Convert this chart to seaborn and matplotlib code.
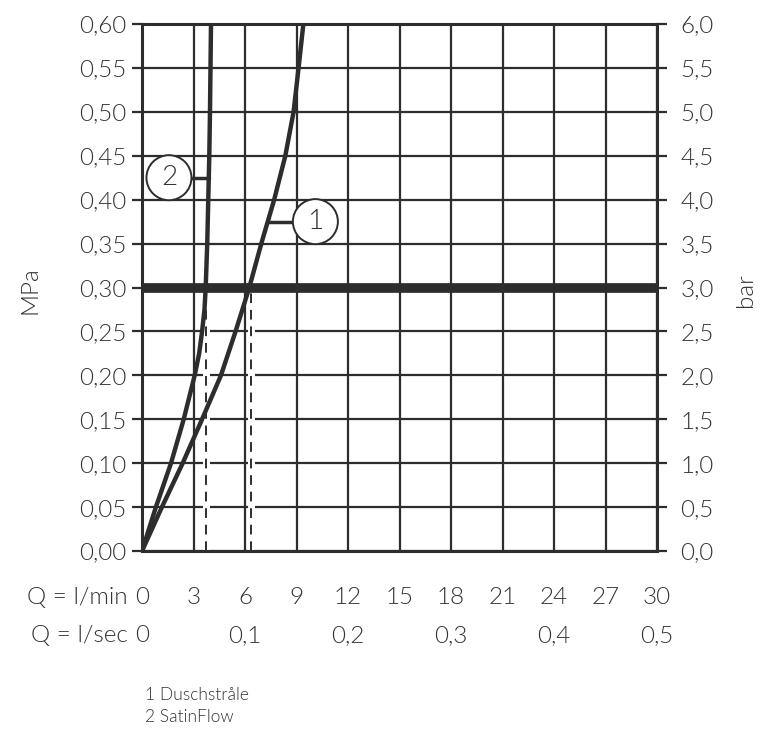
import numpy as np
import matplotlib
matplotlib.use("Agg")
import matplotlib.pyplot as plt
import matplotlib.transforms as mtransforms
from matplotlib.patches import Ellipse
import seaborn as sns

# pressure (MPa) against flow (l/min)
pressure_duschstrale = [0.00, 0.05, 0.10, 0.15, 0.20, 0.25, 0.30, 0.35, 0.40, 0.45, 0.50, 0.55, 0.60]
flow_duschstrale = [0.0, 1.16, 2.37, 3.5, 4.6, 5.45, 6.25, 6.95, 7.7, 8.35, 8.83, 9.12, 9.4]
pressure_satinflow = [0.00, 0.05, 0.10, 0.15, 0.20, 0.225, 0.25, 0.275, 0.30, 0.35, 0.40, 0.45, 0.50, 0.55, 0.60]
flow_satinflow = [0.0, 0.81, 1.69, 2.43, 3.07, 3.33, 3.5, 3.64, 3.71, 3.8, 3.86, 3.92, 3.96, 3.99, 4.02]

working_pressure = 0.30
flow_at_working = [3.73, 6.35]

lmin_ticks = [0, 3, 6, 9, 12, 15, 18, 21, 24, 27, 30]
lsec_pos = [0, 6, 12, 18, 24, 30]
lsec_labels = ["0", "0,1", "0,2", "0,3", "0,4", "0,5"]
mpa_ticks = [0.00, 0.05, 0.10, 0.15, 0.20, 0.25, 0.30, 0.35, 0.40, 0.45, 0.50, 0.55, 0.60]
bar_ticks = [0.0, 0.5, 1.0, 1.5, 2.0, 2.5, 3.0, 3.5, 4.0, 4.5, 5.0, 5.5, 6.0]
legend_lines = ["1 Duschstråle", "2 SatinFlow"]

ink = "#2d2d2d"
txt = "#333333"
fs = 17.5
fw = 300

sns.set_style("white")
plt.rcParams["font.family"] = ["Lato", "DejaVu Sans"]
plt.rcParams["text.color"] = txt

fig = plt.figure(figsize=(7.6, 7.35), dpi=100)
ax = fig.add_axes([142 / 760, 1 - 551 / 735, 515 / 760, 527 / 735])

# curves
sns.lineplot(x=flow_duschstrale, y=pressure_duschstrale, sort=False, estimator=None,
             color=ink, lw=3.2, ax=ax, zorder=4)
sns.lineplot(x=flow_satinflow, y=pressure_satinflow, sort=False, estimator=None,
             color=ink, lw=3.2, ax=ax, zorder=4)

# working pressure line and the dashed drops
ax.axhline(working_pressure, color=ink, lw=7, zorder=4)
for q in flow_at_working:
    ax.plot([q, q], [0, working_pressure], color="white", lw=5, zorder=2,
            solid_capstyle="butt")
    ax.plot([q, q], [0, working_pressure], color=ink, lw=1.4, zorder=2.1,
            dashes=(5, 3.5))

ax.set_xlim(0, 30)
ax.set_ylim(0, 0.6)

# curve labels in circles
px_x = 515 / 30
px_y = 527 / 0.6
r = 22.5
for num, cx, cy, qcurve in [("2", 1.57, 0.425, 3.9), ("1", 10.1, 0.375, 7.4)]:
    ax.add_patch(Ellipse((cx, cy), 2 * r / px_x, 2 * r / px_y, fc="white",
                         ec=ink, lw=1.4, zorder=6))
    ax.text(cx, cy, num, ha="center", va="center", fontsize=20, color=txt,
            fontweight=fw, zorder=7)
    edge = cx + r / px_x if qcurve > cx else cx - r / px_x
    ax.plot([edge, qcurve], [cy, cy], color=ink, lw=2.5, zorder=5)

# grid
ax.set_xticks(lmin_ticks)
ax.set_yticks(mpa_ticks)
ax.grid(True, color=ink, lw=1.6, zorder=0)
ax.set_axisbelow(True)
for s in ax.spines.values():
    s.set_color(ink)
    s.set_linewidth(2.2)

ax.set_xticklabels([str(v) for v in lmin_ticks], fontsize=fs, color=txt, fontweight=fw)
ax.set_yticklabels([f"{v:.2f}".replace(".", ",") for v in mpa_ticks], fontsize=fs,
                   color=txt, fontweight=fw)
ax.tick_params(axis="y", direction="out", length=7, width=1.6, color=ink, pad=4)
ax.tick_params(axis="x", direction="inout", length=12, width=1.6, color=ink, pad=20)

ax2 = ax.twinx()
ax2.set_ylim(0, 6)
ax2.set_yticks(bar_ticks)
ax2.set_yticklabels([f"{v:.1f}".replace(".", ",") for v in bar_ticks], fontsize=fs,
                    color=txt, fontweight=fw)
ax2.tick_params(axis="y", direction="out", length=7, width=1.6, color=ink, pad=10)
ax2.grid(False)
for s in ax2.spines.values():
    s.set_visible(False)

fig.text(30 / 760, 1 - 290 / 735, "MPa", rotation=90, ha="center", va="center",
         fontsize=fs, color=txt, fontweight=fw)
fig.text(746 / 760, 1 - 290 / 735, "bar", rotation=90, ha="center", va="center",
         fontsize=fs, color=txt, fontweight=fw)

# axis captions and l/sec row
trans = mtransforms.blended_transform_factory(ax.transData, ax.transAxes)
row1_y = -(598 - 551) / 527
row2_y = -(636 - 551) / 527
ax.text(-0.027, row1_y, "Q = l/min", transform=ax.transAxes, ha="right",
        va="center", fontsize=fs, color=txt, fontweight=fw)
ax.text(-0.027, row2_y, "Q = l/sec", transform=ax.transAxes, ha="right",
        va="center", fontsize=fs, color=txt, fontweight=fw)
for pos, lab in zip(lsec_pos, lsec_labels):
    ax.text(pos, row2_y, lab, transform=trans, ha="center", va="center",
            fontsize=fs, color=txt, fontweight=fw)

# legend notes
for i, line in enumerate(legend_lines):
    fig.text(145 / 760, 1 - (695 + 22 * i) / 735, line, ha="left", va="center",
             fontsize=12.5, color=txt, fontweight=fw)

fig.savefig("out.png", dpi=100)
